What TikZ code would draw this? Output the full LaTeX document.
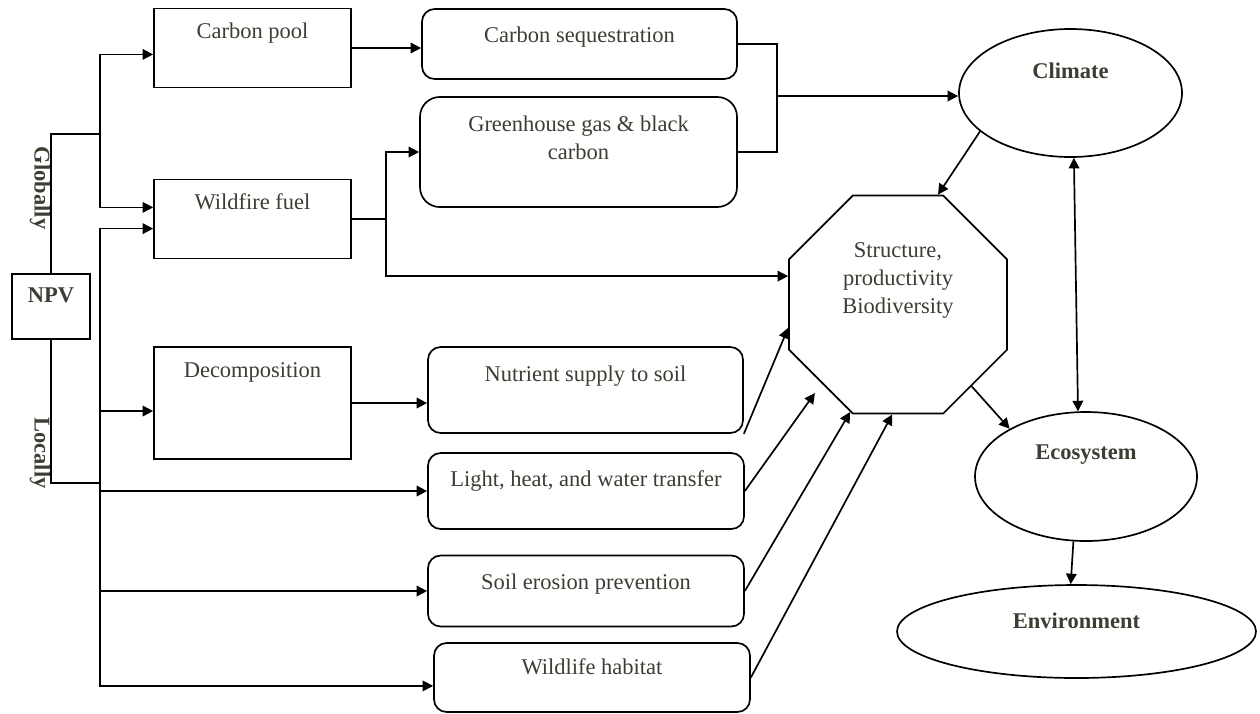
\documentclass[tikz,border=0pt]{standalone}
\usepackage{fontspec}
\setmainfont{Liberation Serif}
\usetikzlibrary{arrows.meta, shapes.geometric, calc}
\definecolor{ctext}{HTML}{3D3D33}
\tikzset{
  every picture/.style={line width=1.2pt},
  txt/.style={font=\fontsize{16}{19.7}\selectfont, text=ctext, align=center, anchor=north, inner sep=0pt},
  btxt/.style={txt, font=\fontsize{16}{19.7}\selectfont\bfseries},
  sq/.style={draw, minimum width=4.925cm, minimum height=1.975cm},
  rbox/.style={draw, rounded corners=9pt, minimum width=7.9cm},
  oval/.style={draw, ellipse},
  arrow/.style={-{Triangle[length=7.5pt, width=7.5pt]}},
  twoway/.style={{Triangle[length=7.5pt, width=7.5pt]}-{Triangle[length=7.5pt, width=7.5pt]}},
}
\begin{document}
\begin{tikzpicture}
  \useasboundingbox (0,0) rectangle (31.5,-17.825);
  % left column
  \node[sq, minimum width=1.95cm, minimum height=1.625cm, label={[btxt, yshift=-0.35cm]north:NPV}] (npv) at (1.275,-7.6625) {};
  \node[btxt, anchor=center, rotate=-90] (glob) at (1.0,-4.7) {Globally};
  \node[btxt, anchor=center, rotate=-90] (loc) at (1.0,-11.325) {Locally};
  \node[sq, label={[txt, yshift=-0.35cm]north:Carbon pool}] (cp) at (6.3125,-1.2) {};
  \node[sq, label={[txt, yshift=-0.35cm]north:Wildfire fuel}] (wf) at (6.3125,-5.475) {};
  \node[sq, minimum height=2.8cm, label={[txt, yshift=-0.4cm]north:Decomposition}] (dec) at (6.3125,-10.075) {};
  % middle column
  \node[rbox, minimum width=7.875cm, minimum height=1.75cm, label={[txt, yshift=-0.45cm]north:Carbon sequestration}] (cseq) at (14.4875,-1.1) {};
  \node[rbox, rounded corners=14pt, minimum width=7.925cm, minimum height=2.75cm, label={[txt, yshift=-0.475cm]north:Greenhouse gas \& black\\carbon}] (gh) at (14.4625,-3.8) {};
  \node[rbox, minimum width=7.875cm, minimum height=2.15cm, label={[txt, yshift=-0.475cm]north:Nutrient supply to soil}] (nut) at (14.6375,-9.75) {};
  \node[rbox, minimum height=1.9cm, label={[txt, yshift=-0.45cm]north:Light, heat, and water transfer}] (lht) at (14.65,-12.275) {};
  \node[rbox, minimum height=1.775cm, label={[txt, yshift=-0.45cm]north:Soil erosion prevention}] (soil) at (14.65,-14.775) {};
  \node[rbox, minimum height=1.725cm, label={[txt, yshift=-0.4cm]north:Wildlife habitat}] (wl) at (14.8,-16.9375) {};
  % right side
  \node[draw, regular polygon, regular polygon sides=8, minimum size=5.9cm, label={[txt, yshift=-1.19cm]north:Structure,\\productivity\\Biodiversity}] (oct) at (22.45,-7.6125) {};
  \node[oval, minimum width=5.575cm, minimum height=3.2cm, label={[btxt, yshift=-0.85cm]north:Climate}] (clim) at (26.7625,-2.325) {};
  \node[oval, minimum width=5.55cm, minimum height=3.225cm, label={[btxt, yshift=-0.825cm]north:Ecosystem}] (eco) at (27.15,-11.9125) {};
  \node[oval, minimum width=8.975cm, minimum height=2.325cm, label={[btxt, yshift=-0.7cm]north:Environment}] (env) at (26.9125,-15.7875) {};
  % NPV branches
  \coordinate (gj) at (2.5,-3.35);
  \coordinate (lj) at (2.5,-12.075);
  \draw (npv.north) |- (gj);
  \draw (npv.south) |- (lj);
  \draw[arrow] (gj) |- ([yshift=-0.16cm]cp.west);
  \draw[arrow] (gj) |- ([yshift=0.29cm]wf.west);
  \draw[arrow] (lj) |- ([yshift=-0.24cm]wf.west);
  \draw[arrow] (lj) |- ([yshift=-0.2cm]dec.west);
  \draw[arrow] (lj) |- (lht.west);
  \draw[arrow] (lj) |- (soil.west);
  \draw[arrow] (lj) |- ([yshift=-0.21cm]wl.west);
  % to the middle column
  \draw[arrow] (cp.east) -- (cp.east -| cseq.west);
  \draw[arrow] (dec.east) -- (dec.east -| nut.west);
  \coordinate (wj) at (9.65,-5.475);
  \draw (wf.east) -- (wj);
  \draw[arrow] (wj) |- (gh.west);
  \draw[arrow] (wj) |- ([yshift=0.71cm]oct.west);
  % to climate
  \coordinate (cj) at (19.425,-2.4);
  \draw (cseq.east) -| (cj);
  \draw (gh.east) -| (cj);
  \draw[arrow] (cj) -- (cj -| clim.west);
  % into the octagon
  \draw[arrow] (clim.203) -- (oct.70);
  \draw[arrow] (nut.south east) -- (oct.192);
  \draw[arrow, shorten >=0.29cm] (lht.east) -- (oct.226);
  \draw[arrow] (soil.east) -- (oct.246);
  \draw[arrow] (wl.east) -- (oct.267);
  % right chain
  \draw[arrow] (oct.312) -- (eco.148);
  \draw[arrow] (eco.259) -- (env.97);
  \draw[twoway] (clim.273) -- (eco.97);
\end{tikzpicture}
\end{document}
